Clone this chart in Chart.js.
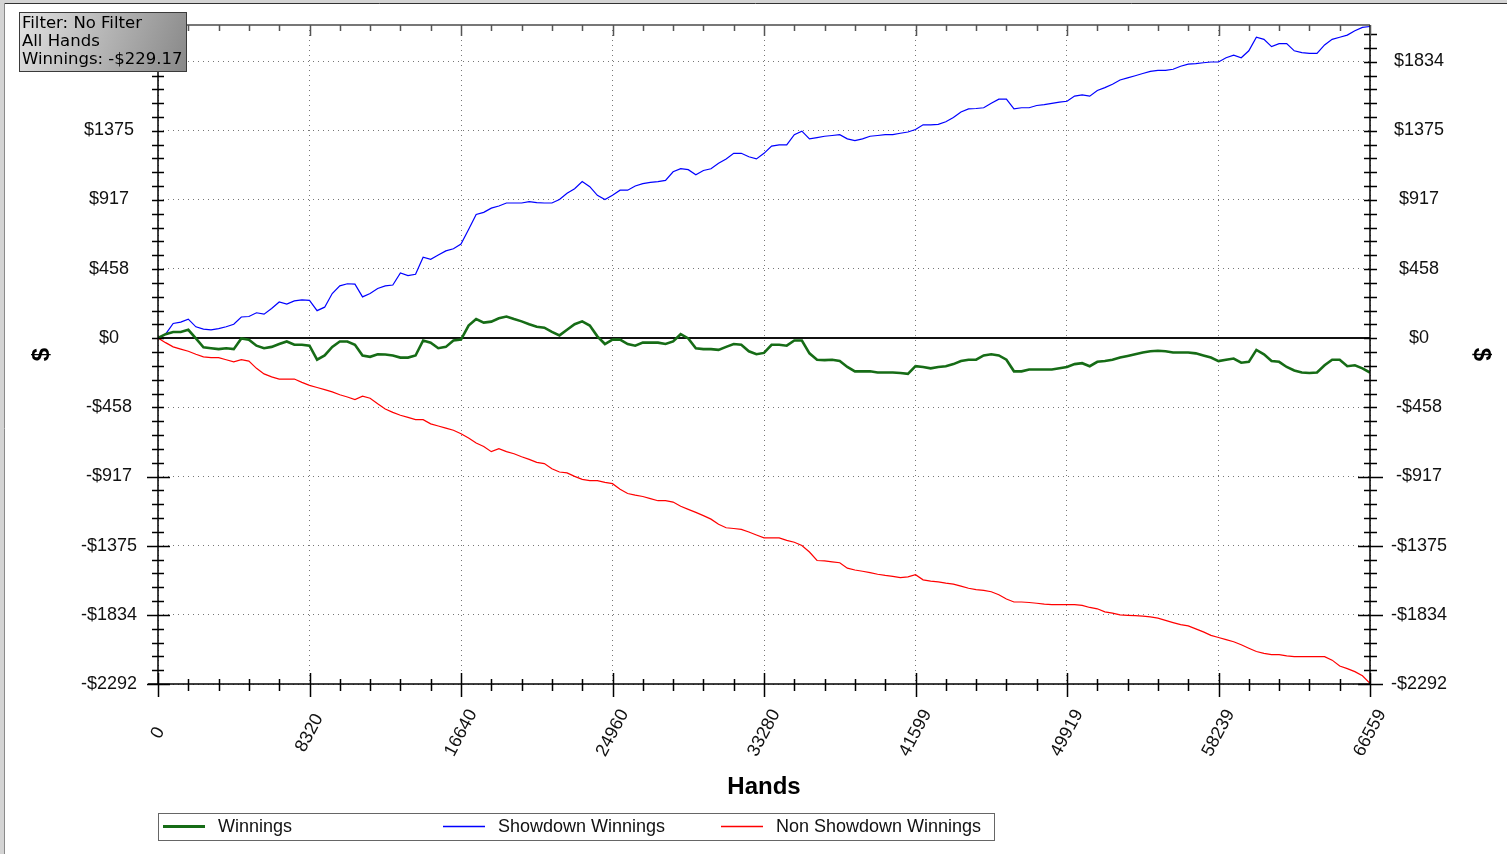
<!DOCTYPE html>
<html>
<head>
<meta charset="utf-8">
<title>Winnings graph</title>
<script src="https://cdn.jsdelivr.net/npm/chart.js@4.4.0/dist/chart.umd.min.js"></script>
<style>
    html, body { margin: 0; padding: 0; background: #fff; overflow: hidden; }
    canvas { display: block; }
</style>
</head>
<body>
<canvas id="grafico" width="1507" height="854"></canvas>
<script>
const hands = [
    0, 416, 832, 1248, 1664, 2080, 2496, 2912, 3328, 3744,
    4160, 4576, 4992, 5408, 5824, 6240, 6656, 7072, 7488, 7904,
    8320, 8736, 9152, 9568, 9984, 10400, 10816, 11232, 11648, 12064,
    12480, 12896, 13312, 13728, 14144, 14560, 14976, 15392, 15808, 16224,
    16640, 17056, 17472, 17888, 18304, 18720, 19136, 19552, 19968, 20384,
    20800, 21216, 21632, 22048, 22464, 22880, 23296, 23712, 24128, 24544,
    24960, 25376, 25792, 26208, 26624, 27040, 27456, 27872, 28288, 28704,
    29120, 29536, 29952, 30368, 30784, 31200, 31616, 32032, 32448, 32864,
    33280, 33696, 34112, 34528, 34944, 35360, 35776, 36192, 36608, 37024,
    37440, 37856, 38272, 38688, 39104, 39520, 39936, 40352, 40768, 41184,
    41600, 42016, 42432, 42848, 43264, 43680, 44096, 44512, 44928, 45344,
    45760, 46176, 46592, 47008, 47424, 47840, 48256, 48672, 49088, 49504,
    49920, 50336, 50752, 51168, 51584, 52000, 52416, 52832, 53248, 53664,
    54080, 54496, 54912, 55328, 55744, 56160, 56576, 56992, 57408, 57824,
    58240, 58656, 59072, 59488, 59904, 60320, 60736, 61152, 61568, 61984,
    62400, 62816, 63232, 63648, 64064, 64480, 64896, 65312, 65728, 66144,
    66559
];

const winnings = [
    0, 25, 40, 40, 54, -3, -62, -68, -74, -68,
    -74, -3, -11, -51, -68, -59, -40, -23, -45, -45,
    -51, -144, -116, -59, -23, -23, -45, -116, -125, -108,
    -110, -116, -130, -130, -116, -17, -31, -68, -59, -17,
    -11, 82, 125, 102, 108, 130, 142, 125, 110, 91,
    74, 68, 40, 17, 54, 91, 110, 82, 11, -40,
    -11, -11, -40, -51, -31, -31, -31, -40, -23, 25,
    -3, -68, -74, -74, -79, -59, -40, -45, -88, -108,
    -99, -45, -45, -51, -17, -17, -102, -144, -147, -144,
    -153, -192, -221, -221, -221, -229, -229, -229, -232, -238,
    -187, -192, -201, -192, -187, -173, -153, -144, -144, -116,
    -108, -116, -144, -221, -221, -209, -209, -209, -209, -201,
    -192, -173, -167, -187, -158, -153, -144, -130, -119, -108,
    -96, -88, -85, -88, -96, -96, -96, -102, -116, -130,
    -153, -144, -136, -164, -158, -79, -108, -153, -158, -192,
    -215, -229, -232, -229, -181, -144, -144, -187, -181, -201,
    -229
];

const showdown = [
    0, 25, 96, 105, 125, 74, 59, 54, 62, 74,
    91, 139, 142, 167, 158, 195, 238, 224, 246, 252,
    249, 181, 204, 294, 345, 359, 357, 272, 294, 328,
    345, 351, 430, 413, 422, 535, 521, 549, 577, 591,
    622, 719, 818, 832, 860, 874, 894, 894, 894, 903,
    897, 894, 894, 917, 959, 988, 1036, 1002, 945, 917,
    945, 979, 979, 1007, 1022, 1030, 1036, 1044, 1101, 1121,
    1115, 1081, 1109, 1121, 1157, 1186, 1223, 1223, 1200, 1186,
    1223, 1271, 1279, 1279, 1347, 1370, 1319, 1327, 1336, 1341,
    1347, 1319, 1307, 1319, 1336, 1341, 1347, 1347, 1356, 1364,
    1381, 1412, 1412, 1415, 1432, 1460, 1497, 1517, 1520, 1525,
    1554, 1582, 1582, 1517, 1525, 1525, 1540, 1545, 1554, 1562,
    1568, 1602, 1610, 1602, 1639, 1658, 1681, 1709, 1723, 1737,
    1752, 1766, 1772, 1772, 1780, 1800, 1814, 1817, 1823, 1828,
    1828, 1856, 1873, 1856, 1902, 1992, 1978, 1930, 1950, 1950,
    1902, 1890, 1885, 1885, 1941, 1978, 1992, 2006, 2035, 2057,
    2063
];

const non_showdown = [
    0, -31, -59, -74, -88, -108, -125, -130, -130, -144,
    -158, -144, -153, -201, -238, -258, -272, -272, -272, -294,
    -314, -328, -342, -357, -376, -391, -408, -385, -399, -436,
    -470, -493, -512, -526, -541, -541, -569, -583, -597, -611,
    -634, -662, -696, -719, -753, -733, -753, -767, -787, -804,
    -824, -832, -866, -888, -894, -917, -937, -945, -945, -957,
    -965, -1002, -1030, -1041, -1050, -1064, -1078, -1078, -1087, -1115,
    -1135, -1155, -1177, -1200, -1234, -1257, -1262, -1268, -1285, -1305,
    -1324, -1324, -1324, -1341, -1353, -1375, -1418, -1474, -1477, -1483,
    -1489, -1525, -1537, -1545, -1554, -1565, -1573, -1579, -1588, -1582,
    -1568, -1602, -1610, -1616, -1624, -1630, -1644, -1658, -1667, -1672,
    -1681, -1701, -1729, -1749, -1749, -1752, -1757, -1763, -1766, -1766,
    -1766, -1766, -1771, -1785, -1794, -1814, -1822, -1834, -1837, -1839,
    -1842, -1848, -1856, -1871, -1885, -1899, -1907, -1927, -1947, -1970,
    -1984, -1998, -2012, -2032, -2055, -2077, -2089, -2097, -2097, -2106,
    -2111, -2111, -2111, -2111, -2111, -2134, -2173, -2190, -2210, -2238,
    -2287
];

const series_names = ['Winnings', 'Showdown Winnings', 'Non Showdown Winnings'];
const x_ticks = [0, 8320, 16640, 24960, 33280, 41599, 49919, 58239, 66559];
const y_ticks = [-2292, -1834, -1375, -917, -458, 0, 458, 917, 1375, 1834];
const info_lines = ['Filter: No Filter', 'All Hands', 'Winnings: -$229.17'];

const pontos = (valores) => valores.map((v, i) => ({ x: hands[i], y: v }));

const formata_dolar = (v) => (v < 0 ? '-$' : '$') + Math.abs(Math.round(v));

const fonte_ticks = { size: 18, family: 'Liberation Sans, Arial, sans-serif' };

// axis lines, minor ticks, rotated x labels, titles, legend and the info box
const extras = {
    id: 'extras',
    beforeDraw(chart) {
        const ctx = chart.ctx;
        ctx.save();
        ctx.fillStyle = '#d4d4d4';
        ctx.fillRect(0, 0, 1507, 3);
        ctx.fillRect(0, 0, 4, 854);
        ctx.strokeStyle = '#333';
        ctx.lineWidth = 1;
        ctx.beginPath();
        ctx.moveTo(4, 3.5); ctx.lineTo(1507, 3.5);
        ctx.stroke();
        ctx.strokeStyle = '#8a8a8a';
        ctx.beginPath();
        ctx.moveTo(4.5, 3); ctx.lineTo(4.5, 854);
        ctx.stroke();
        ctx.restore();
    },
    beforeDatasetsDraw(chart) {
        const ctx = chart.ctx;
        const area = chart.chartArea;
        const y0 = chart.scales.y.getPixelForValue(0);
        ctx.save();
        ctx.strokeStyle = '#111';
        ctx.lineWidth = 2;
        ctx.beginPath();
        ctx.moveTo(area.left, y0); ctx.lineTo(area.right, y0);
        ctx.stroke();
        ctx.restore();
    },
    afterDraw(chart) {
        const ctx = chart.ctx;
        const area = chart.chartArea;
        const sx = chart.scales.x;
        const sy = chart.scales.y;
        const L = area.left, R = area.right, T = area.top, B = area.bottom;

        ctx.save();
        ctx.lineWidth = 1;

        // frame
        ctx.strokeStyle = '#777';
        ctx.lineWidth = 2;
        ctx.beginPath();
        ctx.moveTo(L, T); ctx.lineTo(R, T);
        ctx.stroke();
        ctx.strokeStyle = '#000';
        ctx.lineWidth = 1.5;
        ctx.beginPath();
        ctx.moveTo(L, T); ctx.lineTo(L, B + 1);
        ctx.moveTo(R, T); ctx.lineTo(R, B + 1);
        ctx.moveTo(L - 10, B); ctx.lineTo(R, B);
        ctx.stroke();

        // y ticks (left and right)
        const passo_y = (y_ticks[1] - y_ticks[0]) / 5;
        ctx.lineWidth = 1.5;
        ctx.beginPath();
        for (let v = y_ticks[0]; v <= sy.max + 0.1; v += passo_y) {
            const y = Math.round(sy.getPixelForValue(v)) + 0.5;
            const major = y_ticks.some(t => Math.abs(t - v) < 2);
            if (major) {
                ctx.moveTo(L - 11, y); ctx.lineTo(L + 12, y);
                ctx.moveTo(R - 12, y); ctx.lineTo(R + 13, y);
            } else {
                ctx.moveTo(L - 6, y); ctx.lineTo(L + 6, y);
                ctx.moveTo(R - 6, y); ctx.lineTo(R + 7, y);
            }
        }
        ctx.stroke();

        // x ticks (bottom and top)
        const passo_x = x_ticks[1] / 5;
        ctx.beginPath();
        for (let k = 0; k < 41; k++) {
            const v = Math.min(k * passo_x, sx.max);
            const x = Math.round(sx.getPixelForValue(v)) + 0.5;
            if (k % 5 === 0) {
                ctx.moveTo(x, B - 11); ctx.lineTo(x, B + 13);
            } else {
                ctx.moveTo(x, B - 5); ctx.lineTo(x, B + 7);
            }
        }
        ctx.stroke();
        ctx.strokeStyle = '#555';
        ctx.beginPath();
        for (let k = 0; k < 41; k++) {
            const v = Math.min(k * passo_x, sx.max);
            const x = Math.round(sx.getPixelForValue(v)) + 0.5;
            ctx.moveTo(x, T); ctx.lineTo(x, T + (k % 5 === 0 ? 11 : 6));
        }
        ctx.stroke();

        // x labels, rotated round their centre
        ctx.fillStyle = '#111';
        ctx.font = '18px Liberation Sans, Arial, sans-serif';
        ctx.textAlign = 'center';
        ctx.textBaseline = 'middle';
        x_ticks.forEach(v => {
            ctx.save();
            ctx.translate(sx.getPixelForValue(v), B + 49);
            ctx.rotate(-62 * Math.PI / 180);
            ctx.fillText(String(v), 0, 0);
            ctx.restore();
        });

        // titles
        ctx.fillStyle = '#000';
        ctx.font = 'bold 24px Liberation Sans, Arial, sans-serif';
        ctx.fillText('Hands', (L + R) / 2, 787);
        ctx.save();
        ctx.translate(42, (T + B) / 2);
        ctx.rotate(-Math.PI / 2);
        ctx.fillText('$', 0, 0);
        ctx.restore();
        ctx.save();
        ctx.translate(1481, (T + B) / 2);
        ctx.rotate(Math.PI / 2);
        ctx.fillText('$', 0, 0);
        ctx.restore();

        // legend
        ctx.strokeStyle = '#666';
        ctx.lineWidth = 1;
        ctx.strokeRect(158.5, 813.5, 836, 27);
        const leg_x = [163, 443, 721];
        ctx.font = '18px Liberation Sans, Arial, sans-serif';
        ctx.textAlign = 'left';
        chart.data.datasets.forEach((ds, i) => {
            ctx.strokeStyle = ds.borderColor;
            ctx.lineWidth = i === 0 ? 3 : 1.5;
            ctx.beginPath();
            ctx.moveTo(leg_x[i], 826.5); ctx.lineTo(leg_x[i] + 42, 826.5);
            ctx.stroke();
            ctx.fillStyle = '#111';
            ctx.fillText(ds.label, leg_x[i] + 55, 827);
        });

        // info box
        const grad = ctx.createLinearGradient(19, 12, 186, 71);
        grad.addColorStop(0, '#e2e2e2');
        grad.addColorStop(1, '#888');
        ctx.fillStyle = grad;
        ctx.fillRect(19, 12, 167, 59);
        ctx.strokeStyle = '#3a3a3a';
        ctx.lineWidth = 1;
        ctx.strokeRect(19.5, 12.5, 167, 59);
        ctx.fillStyle = '#000';
        ctx.font = '16.5px DejaVu Sans, Verdana, sans-serif';
        ctx.textBaseline = 'alphabetic';
        info_lines.forEach((t, i) => ctx.fillText(t, 22, 28 + i * 18));

        ctx.restore();
    }
};

const sem_padding = (s, largura) => {
    s.width = largura;
    s.paddingTop = 0;
    s.paddingBottom = 0;
};

const config_grafico = {
    type: 'line',
    data: {
        datasets: [{
            label: series_names[0],
            data: pontos(winnings),
            borderColor: '#166c16',
            borderWidth: 2.6
        }, {
            label: series_names[1],
            data: pontos(showdown),
            borderColor: '#0000ff',
            borderWidth: 1.2
        }, {
            label: series_names[2],
            data: pontos(non_showdown),
            borderColor: '#ff0000',
            borderWidth: 1.2
        }]
    },
    options: {
        responsive: false,
        animation: false,
        layout: { padding: { top: 25, left: 0, right: 0, bottom: 0 } },
        elements: {
            point: { radius: 0 },
            line: { tension: 0 }
        },
        plugins: {
            legend: { display: false },
            tooltip: { enabled: false }
        },
        scales: {
            x: {
                type: 'linear',
                min: 0,
                max: 66559,
                afterBuildTicks: s => { s.ticks = x_ticks.map(v => ({ value: v })); },
                afterFit: s => { s.height = 170; s.paddingLeft = 0; s.paddingRight = 0; },
                grid: { color: '#777', lineWidth: 1, drawTicks: false },
                border: { display: false, dash: [1, 4] },
                ticks: { display: false }
            },
            y: {
                position: 'left',
                min: -2292,
                max: 2073,
                afterBuildTicks: s => { s.ticks = y_ticks.map(v => ({ value: v })); },
                afterFit: s => sem_padding(s, 158),
                grid: {
                    color: c => (c.tick && c.tick.value === 0) ? 'rgba(0,0,0,0)' : '#777',
                    lineWidth: 1,
                    drawTicks: false
                },
                border: { display: false, dash: [1, 4] },
                ticks: {
                    crossAlign: 'center',
                    padding: 21,
                    color: '#111',
                    font: fonte_ticks,
                    callback: v => formata_dolar(v)
                }
            },
            y2: {
                position: 'right',
                min: -2292,
                max: 2073,
                afterBuildTicks: s => { s.ticks = y_ticks.map(v => ({ value: v })); },
                afterFit: s => sem_padding(s, 137),
                grid: { display: false, drawTicks: false },
                border: { display: false },
                ticks: {
                    crossAlign: 'center',
                    padding: 21,
                    color: '#111',
                    font: fonte_ticks,
                    callback: v => formata_dolar(v)
                }
            }
        }
    },
    plugins: [extras]
};

const grafico = new Chart(document.getElementById('grafico'), config_grafico);
</script>
</body>
</html>
